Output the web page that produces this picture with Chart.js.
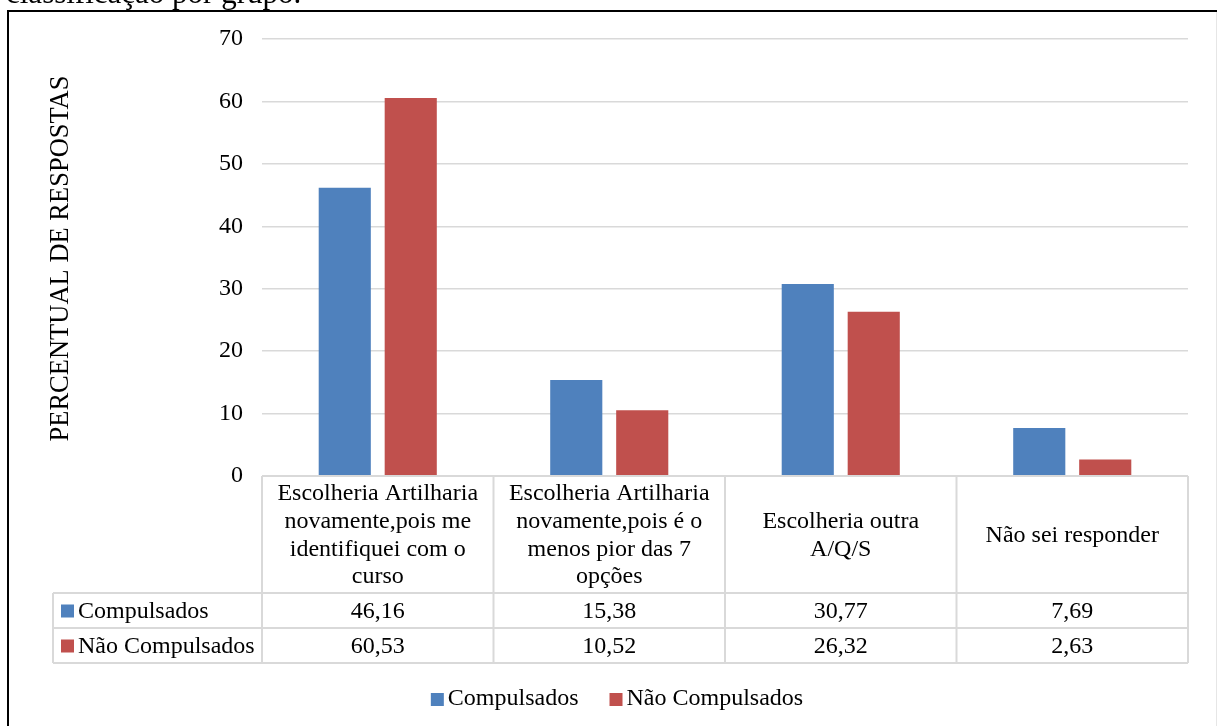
<!DOCTYPE html>
<html>
<head>
<meta charset="utf-8">
<style>
  html, body { margin: 0; padding: 0; background: #fff; }
  #wrap { width: 1217px; height: 726px; position: relative; }
</style>
<script src="https://cdn.jsdelivr.net/npm/chart.js@4.4.1/dist/chart.umd.min.js"></script>
</head>
<body>
<div id="wrap"><canvas id="c" width="1217" height="726"></canvas></div>
<script>
// Answer categories (header cells of the data table, pre-wrapped)
const categories = [
  ['Escolheria Artilharia', 'novamente,pois me', 'identifiquei com o', 'curso'],
  ['Escolheria Artilharia', 'novamente,pois é o', 'menos pior das 7', 'opções'],
  ['Escolheria outra', 'A/Q/S'],
  ['Não sei responder']
];
const seriesNames = ['Compulsados', 'Não Compulsados'];
const compulsados = [46.16, 15.38, 30.77, 7.69];
const naoCompulsados = [60.53, 10.52, 26.32, 2.63];
const yTicks = [0, 10, 20, 30, 40, 50, 60, 70];
const yTitle = 'PERCENTUAL DE RESPOSTAS';
const captionText = 'classificação por grupo.';

const FONT = 'Liberation Serif';
const BLUE = '#4F81BD';
const RED = '#C0504D';
const LINE = '#d9d9d9';

const fmt = v => v.toFixed(2).replace('.', ',');

// Draws the caption, frame, y title, data table and legend around the plot
const tablePlugin = {
  id: 'dataTable',
  afterDraw(chart) {
    const ctx = chart.ctx;
    const area = chart.chartArea;
    const xs = chart.scales.x;
    const n = categories.length;
    const colW = area.width / n;
    const headTop = area.bottom;
    const headBottom = 593;
    const rowH = 35;
    const tableLeft = 53;
    const rows = [
      { name: seriesNames[0], color: BLUE, data: chart.data.datasets[0].data },
      { name: seriesNames[1], color: RED, data: chart.data.datasets[1].data }
    ];

    ctx.save();

    // caption line above the frame (partly cut off at the top)
    ctx.fillStyle = '#000';
    ctx.font = '31px "' + FONT + '"';
    ctx.textAlign = 'left';
    ctx.textBaseline = 'alphabetic';
    ctx.fillText(captionText, 6, 3);

    // frame
    ctx.strokeStyle = '#000';
    ctx.lineWidth = 2;
    ctx.beginPath();
    ctx.moveTo(8, 726);
    ctx.lineTo(8, 11);
    ctx.lineTo(1217, 11);
    ctx.stroke();
    ctx.strokeStyle = '#e6e6e6';
    ctx.lineWidth = 1;
    ctx.beginPath();
    ctx.moveTo(1216.5, 12);
    ctx.lineTo(1216.5, 726);
    ctx.stroke();

    // y axis title
    ctx.save();
    ctx.translate(61, (area.top + area.bottom) / 2 + 1);
    ctx.rotate(-Math.PI / 2);
    ctx.font = '26.5px "' + FONT + '"';
    ctx.textAlign = 'center';
    ctx.textBaseline = 'middle';
    ctx.fillStyle = '#000';
    ctx.fillText(yTitle, 0, 0);
    ctx.restore();

    // table grid
    ctx.strokeStyle = LINE;
    ctx.lineWidth = 2;
    ctx.beginPath();
    ctx.moveTo(area.left, headTop); ctx.lineTo(area.right, headTop);
    for (let r = 0; r <= rows.length; r++) {
      const y = headBottom + r * rowH;
      ctx.moveTo(tableLeft, y); ctx.lineTo(area.right, y);
    }
    for (let i = 0; i <= n; i++) {
      const x = area.left + i * colW;
      ctx.moveTo(x, headTop); ctx.lineTo(x, headBottom + rows.length * rowH);
    }
    ctx.moveTo(tableLeft, headBottom); ctx.lineTo(tableLeft, headBottom + rows.length * rowH);
    ctx.stroke();

    // header cells
    ctx.fillStyle = '#000';
    ctx.font = '24px "' + FONT + '"';
    ctx.textAlign = 'center';
    ctx.textBaseline = 'middle';
    const lineH = 27.7;
    const headMid = (headTop + headBottom) / 2 + 1;
    categories.forEach((lines, i) => {
      const cx = xs.getPixelForValue(i);
      const y0 = headMid - (lines.length - 1) * lineH / 2;
      lines.forEach((t, k) => ctx.fillText(t, cx, y0 + k * lineH));
    });

    // data rows
    rows.forEach((row, r) => {
      const cy = headBottom + r * rowH + rowH / 2 + 1;
      ctx.fillStyle = row.color;
      ctx.fillRect(61, cy - 7, 13, 13);
      ctx.fillStyle = '#000';
      ctx.textAlign = 'left';
      ctx.fillText(row.name, 78, cy);
      ctx.textAlign = 'center';
      row.data.forEach((v, i) => ctx.fillText(fmt(v), xs.getPixelForValue(i), cy));
    });

    // legend
    const box = 13, gapText = 4, gapItem = 31;
    const widths = rows.map(r => ctx.measureText(r.name).width);
    const total = widths.reduce((a, w) => a + box + gapText + w, 0) + gapItem;
    let lx = 617 - total / 2;
    const ly = 699;
    rows.forEach((row, r) => {
      ctx.fillStyle = row.color;
      ctx.fillRect(lx, ly - 6, box, box);
      ctx.fillStyle = '#000';
      ctx.textAlign = 'left';
      ctx.fillText(row.name, lx + box + gapText, ly);
      lx += box + gapText + widths[r] + gapItem;
    });

    ctx.restore();
  }
};

new Chart(document.getElementById('c'), {
  type: 'bar',
  data: {
    labels: categories,
    datasets: [
      { label: seriesNames[0], data: compulsados, backgroundColor: BLUE },
      { label: seriesNames[1], data: naoCompulsados, backgroundColor: RED }
    ]
  },
  options: {
    responsive: false,
    animation: false,
    devicePixelRatio: 1,
    categoryPercentage: 0.57,
    barPercentage: 0.79,
    layout: { padding: { top: 39, right: 29, bottom: 250, left: 0 } },
    plugins: {
      legend: { display: false },
      tooltip: { enabled: false }
    },
    scales: {
      x: { display: false },
      y: {
        min: 0,
        max: 70,
        afterFit: s => { s.width = 262; },
        afterBuildTicks: s => { s.ticks = yTicks.map(v => ({ value: v })); },
        border: { display: false },
        grid: { color: LINE, lineWidth: 1.5, drawTicks: false },
        ticks: {
          color: '#000',
          padding: 19,
          font: { family: FONT, size: 24 }
        }
      }
    }
  },
  plugins: [tablePlugin]
});
</script>
</body>
</html>
